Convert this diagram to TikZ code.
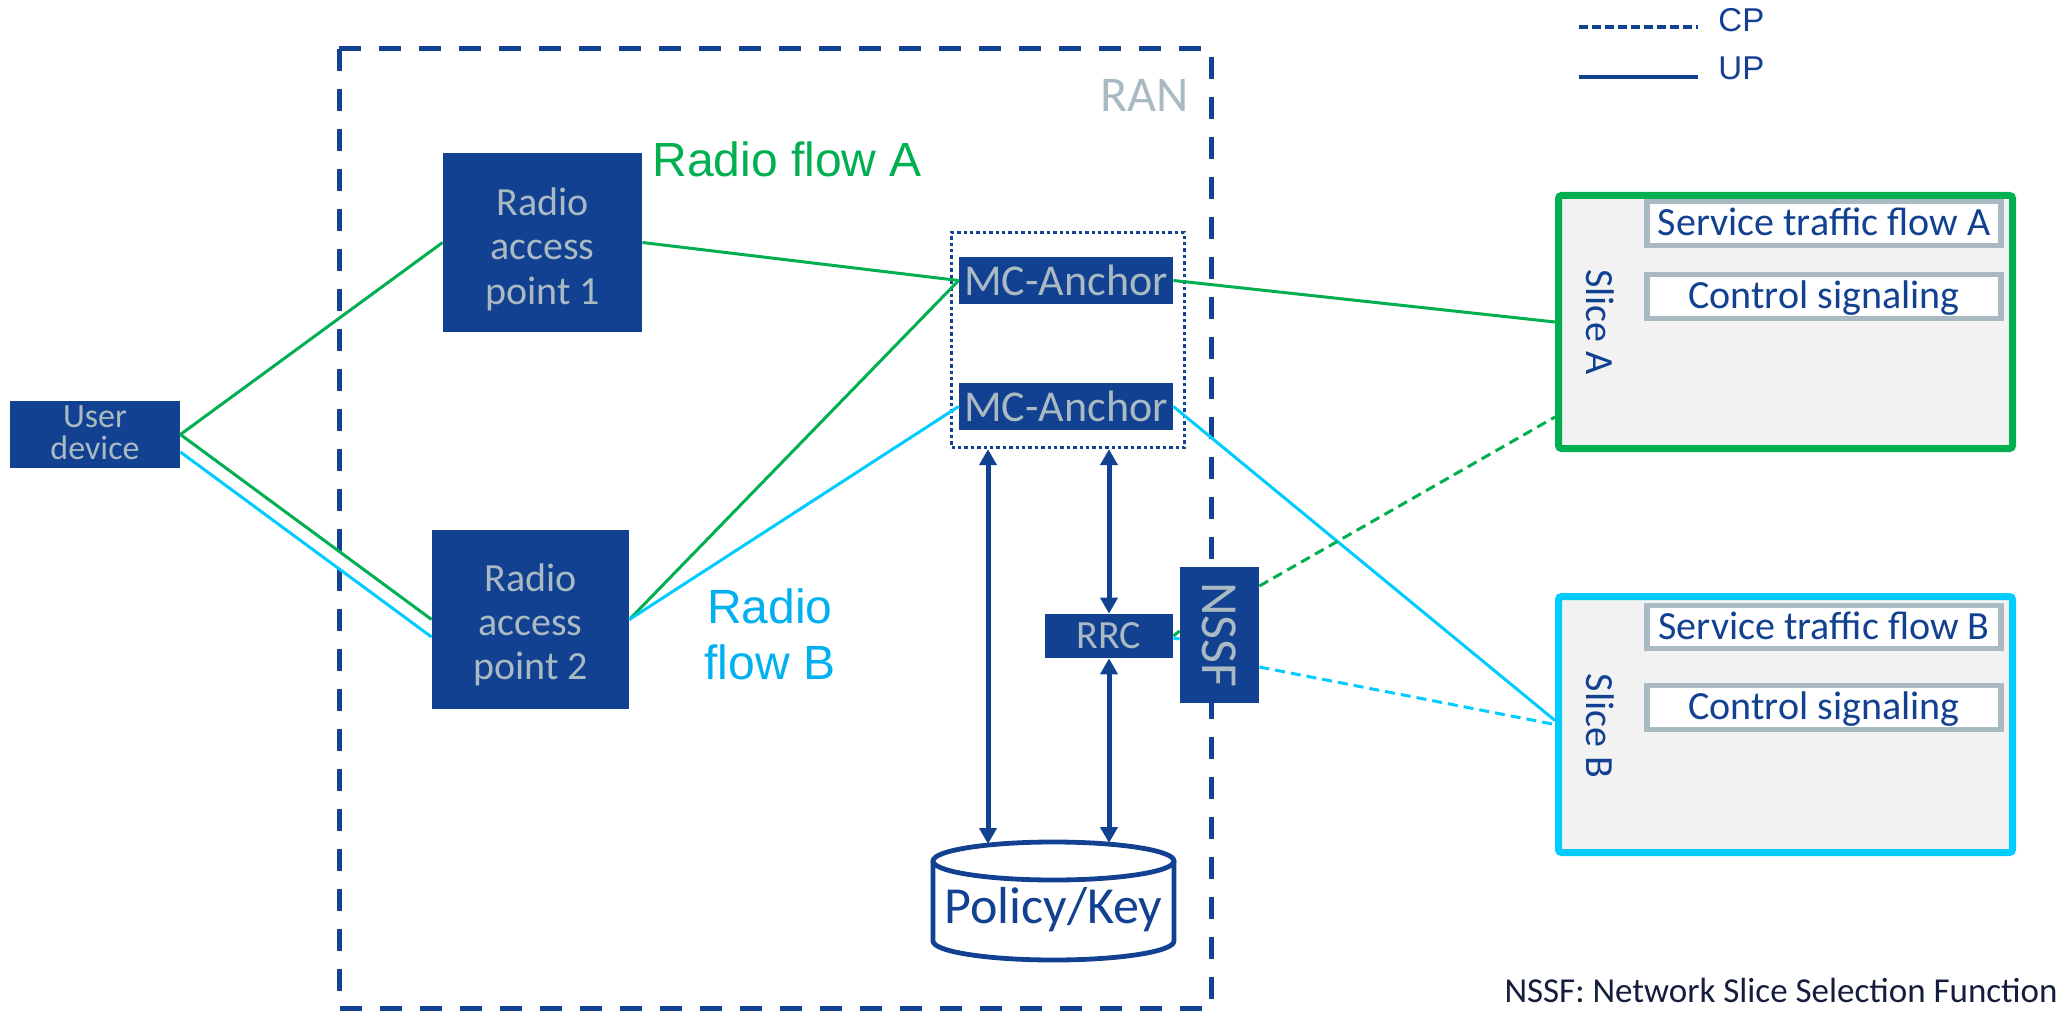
\documentclass[tikz,border=0pt]{standalone}
\usepackage{fontspec}
\usepackage{graphicx}
\setmainfont{Carlito}
\newfontfamily\arialfont{Liberation Sans}
\usetikzlibrary{arrows.meta}

\definecolor{nokiablue}{RGB}{18,65,145}
\definecolor{labelgray}{RGB}{170,186,194}
\definecolor{flowgreen}{RGB}{0,176,80}
\definecolor{flowcyan}{RGB}{0,204,255}
\definecolor{flowbtext}{RGB}{0,176,240}
\definecolor{slicefill}{RGB}{242,242,242}
\definecolor{notedark}{RGB}{20,30,60}

\newcommand\fsz[2]{\fontsize{#1}{#2}\selectfont}

\begin{document}
\begin{tikzpicture}[x=0.5pt,y=-0.5pt,
  bluebox/.style={rectangle, fill=nokiablue, text=labelgray, inner sep=0pt, align=center},
  slicebox/.style={rectangle, draw, line width=3.5pt, fill=slicefill, rounded corners=1.5pt,
                   minimum width=227pt, inner sep=0pt},
  flowbox/.style={rectangle, draw=labelgray, line width=2.7pt, fill=white, text=nokiablue,
                  minimum width=177pt, minimum height=21.75pt, inner sep=0pt, font=\fsz{20}{24},
                  text height=12pt, text depth=0pt},
  slicelabel/.style={font=\fsz{20}{24}, text=nokiablue, rotate=-90, inner sep=0pt},
  upA/.style={flowgreen, line width=1.5pt},
  upB/.style={flowcyan, line width=1.5pt},
  cpA/.style={upA, dash pattern=on 5pt off 3pt},
  cpB/.style={upB, dash pattern=on 5pt off 3pt},
  biarrow/.style={nokiablue, line width=2.5pt,
                  {Triangle[width=8.5pt,length=8pt]}-{Triangle[width=8.5pt,length=8pt]}},
]
\fill[white] (0,0) rectangle (2071,1016);
\useasboundingbox (0,0) rectangle (2071,1016);

% RAN boundary and its label
\draw[nokiablue, line width=2.5pt, dash pattern=on 11pt off 9pt] (339,49) rectangle (1211,1008);
\node[font=\fsz{25}{30}, text=labelgray, anchor=base east, inner sep=0pt] (ranlbl) at (1189,112) {RAN};

% multi-connectivity anchors grouped by a dotted frame
\node[draw=nokiablue, line width=1.7pt, dash pattern=on 1.7pt off 1.5pt,
      minimum width=116.5pt, minimum height=107.5pt, inner sep=0pt] (anch) at (1068,340) {};
\node[bluebox, minimum width=107pt, minimum height=23.5pt, font=\fsz{22}{24}] (mc1) at (1066,280.5) {MC-Anchor};
\node[bluebox, minimum width=107pt, minimum height=23.5pt, font=\fsz{22}{24}] (mc2) at (1066,406.5) {MC-Anchor};

% device and access points
\node[bluebox, minimum width=85pt, minimum height=33.5pt, font=\fsz{17}{16},
      text height=24.5pt, text depth=0pt] (ud) at (95,434.5) {User\\device};
\node[bluebox, minimum width=99.5pt, minimum height=89.5pt, font=\fsz{20}{22},
      text height=61.5pt, text depth=0pt] (ap1) at (542.5,242.5) {Radio\\access\\point 1};
\node[bluebox, minimum width=98.5pt, minimum height=89.5pt, font=\fsz{20}{22},
      text height=60pt, text depth=0pt] (ap2) at (530.5,619.5) {Radio\\access\\point 2};

% control functions
\node[bluebox, minimum width=64pt, minimum height=22pt, font=\fsz{20}{24}] (rrc) at (1109,636) {RRC};
\node[bluebox, minimum width=39.5pt, minimum height=68pt, font=\fsz{26}{30}] (nssf) at (1219.5,635) {\rotatebox{-90}{NSSF}};

% policy / key store
\draw[nokiablue, line width=2.4pt] (933,861) -- (933,941)
  arc[start angle=180, end angle=360, x radius=60.25pt, y radius=9.5pt] -- (1174,861);
\draw[nokiablue, line width=2.4pt] (1053.5,861) ellipse [x radius=60.25pt, y radius=9.5pt];
\node[font=\fsz{26}{30}, text=nokiablue, inner sep=0pt] (policy) at (1053.5,910) {Policy/Key};
\coordinate (pkL) at (988,844);
\coordinate (pkR) at (1109,843);

% slices
\node[slicebox, draw=flowgreen, minimum height=126.5pt] (sliceA) at (1785.5,322) {};
\node[slicebox, draw=flowcyan, minimum height=128pt] (sliceB) at (1785.5,724.5) {};
\node[slicelabel] (sliceAlbl) at (1600,322) {Slice A};
\node[slicelabel] (sliceBlbl) at (1600,726) {Slice B};
\node[flowbox] (svcA) at (1824,223.5) {Service traffic flow A};
\node[flowbox] (ctlA) at (1824,296.5) {Control signaling};
\node[flowbox] (svcB) at (1824,627) {Service traffic flow B};
\node[flowbox] (ctlB) at (1824,707.5) {Control signaling};

% control-plane arrows
\draw[biarrow] (anch.south -| pkL) -- (pkL);
\draw[biarrow] (anch.south -| rrc.north) -- (rrc.north);
\draw[biarrow] (rrc.south) -- (pkR);

% user-plane flows
\draw[upA] (ud.east) -- (ap1.west);
\draw[upA] (ud.east) -- (ap2.west);
\draw[upB] ([yshift=-8.75pt]ud.east) -- ([yshift=-8.75pt]ap2.west);
\draw[upA] (ap1.east) -- (mc1.west);
\draw[upA] (ap2.east) -- (mc1.west);
\draw[upB] (ap2.east) -- (mc2.west);
\draw[upA] (mc1.east) -- (sliceA.west);
\draw[upB] (mc2.east) -- ([yshift=2pt]sliceB.west);

% control-plane links to the slices
\draw[cpA] (rrc.east) -- ([yshift=2pt]nssf.west);
\draw[cpB] ([yshift=-1pt]rrc.east) -- ([yshift=-2pt]nssf.west);
\draw[cpA] ([yshift=24.5pt]nssf.east) -- ([yshift=-47.5pt]sliceA.west);
\draw[cpB] ([yshift=-16pt]nssf.east) -- (sliceB.west);

% flow labels
\node[font=\arialfont\fsz{24}{28}, text=flowgreen, anchor=base west, inner sep=0pt] (flowA) at (652,177) {Radio flow A};
\node[font=\arialfont\fsz{24}{28}, text=flowbtext, align=center, inner sep=0pt] (flowB) at (770,634.5) {Radio\\flow B};

% legend
\coordinate (cp1) at (1579,27);
\coordinate (cp2) at (1698,27);
\coordinate (up1) at (1579,77);
\coordinate (up2) at (1698,77);
\draw[nokiablue, line width=1.7pt, dash pattern=on 4.5pt off 2pt] (cp1) -- (cp2);
\draw[nokiablue, line width=1.7pt] (up1) -- (up2);
\node[font=\arialfont\fsz{16.5}{20}, text=nokiablue, anchor=base west, inner sep=0pt] (cplbl) at (1718,32) {CP};
\node[font=\arialfont\fsz{16.5}{20}, text=nokiablue, anchor=base west, inner sep=0pt] (uplbl) at (1718,80) {UP};

% footnote
\node[font=\fsz{17.5}{20}, text=notedark, anchor=base east, inner sep=0pt] (note) at (2058,1002) {NSSF: Network Slice Selection Function};
\end{tikzpicture}
\end{document}
